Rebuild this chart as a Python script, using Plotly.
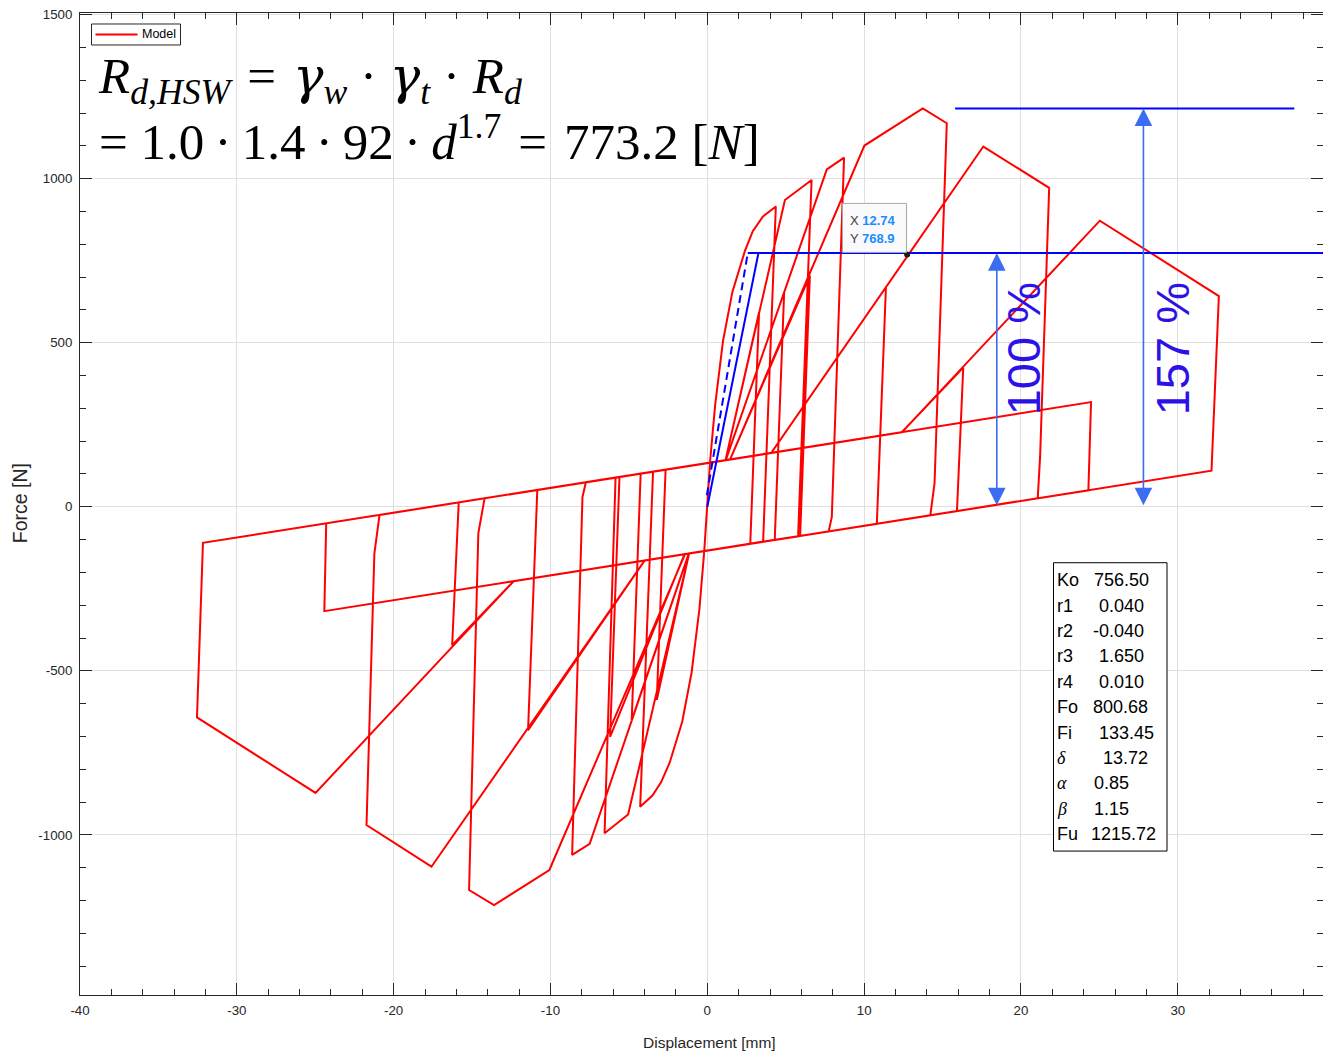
import plotly.graph_objects as go

# ---------------------------------------------------------------------------
# Hysteresis response of the connection model: displacement [mm], force [N]
# Each list is one half-cycle; consecutive half-cycles join along the
# pinching lines.
# ---------------------------------------------------------------------------
# first excursion along the backbone (positive), then unloading
bb_pos_disp = [-0.195, 0.0, 0.18, 0.5, 1.0, 1.6, 2.4, 2.9, 3.55, 4.37, 3.56]
bb_pos_force = [-135, 0, 140, 310, 505, 655, 780, 840, 885, 915, -106]
# first excursion along the backbone (negative), then unloading
bb_neg_disp = [-0.195, -0.5, -1.0, -1.6, -2.4, -2.95, -3.5, -4.28, -3.46]
bb_neg_force = [-135, -310, -505, -655, -780, -840, -880, -914, 107]

# trailing cycles after the 0.2 Delta primary
t1_pos_disp = [1.16, 3.3, 2.74]
t1_pos_force = [142, 593, -113]
t1_neg_disp = [-1.16, -3.22, -2.66]
t1_neg_force = [-142, -588, 113]

# 0.3 Delta primary
c2_pos_disp = [1.16, 4.95, 6.65, 5.79]
c2_pos_force = [142, 935, 996, -90]
c2_neg_disp = [-1.16, -5.05, -6.55, -5.85]
c2_neg_force = [-142, -938, -995, 89]
t2_pos_disp = [1.18, 4.9, 4.3]
t2_pos_force = [142, 654, -101]
t2_neg_disp = [-1.18, -4.82, -4.25]
t2_neg_force = [-142, -650, 101]

# 0.4 Delta primary
c3_pos_disp = [1.18, 7.62, 8.72, 7.94, 7.74]
c3_pos_force = [142, 1028, 1064, -31, -75]
c3_neg_disp = [-1.18, -7.5, -8.62, -7.96, -7.74]
c3_neg_force = [-142, -1027, -1061, 30, 75]
t3_pos_disp = [1.45, 6.54, 5.92]
t3_pos_force = [144, 705, -89]
t3_neg_disp = [-1.45, -6.2, -5.6]
t3_neg_force = [-144, -701, 91]

# 0.7 Delta primary
c4_pos_disp = [1.45, 10.02, 13.74, 15.27, 14.49, 14.22]
c4_pos_force = [144, 1101, 1214, 1169, 71, -26]
c4_neg_disp = [-1.42, -10.07, -13.6, -15.19, -14.6, -14.2]
c4_neg_force = [-144, -1107, -1214, -1168, -80, 26]
t4_pos_disp = [4.07, 11.39, 10.81]
t4_pos_force = [164, 669, -52]
t4_neg_disp = [-4.0, -11.43, -10.84]
t4_neg_force = [-164, -681, 51]

# 1.0 Delta primary
c5_pos_disp = [4.07, 17.6, 21.8, 21.22, 21.07]
c5_pos_force = [164, 1098, 972, 152, 26]
c5_neg_disp = [-4.0, -17.59, -21.73, -21.23, -20.9]
c5_neg_force = [-164, -1097, -970, -143, -25]
t5_pos_disp = [12.4, 16.32, 15.92]
t5_pos_force = [227, 424, -13]
t5_neg_disp = [-12.35, -16.27, -15.85]
t5_neg_force = [-227, -422, 13.5]

# 1.5 Delta primary
c6_pos_disp = [12.4, 25.03, 32.62, 32.15]
c6_pos_force = [227, 872, 642, 110]
c6_neg_disp = [-12.35, -24.98, -32.54, -32.16]
c6_neg_force = [-227, -872, -642, -110]
t6_pos_disp = [24.47, 24.3]
t6_pos_force = [319, 50]
t6_neg_disp = [-24.42, -24.3]
t6_neg_force = [-318, -50]

# design resistance and stiffness construction lines
rd_hsw = 773.2
fu_ratio = 1.57
secant_disp = [0.0, 3.26]
secant_force = [0.0, rd_hsw]
initial_disp = [-0.03, 2.58]
initial_force = [35.0, rd_hsw]
level_disp = [2.58, 39.26]
peak_level_disp = [15.8, 37.43]
arrow_100_disp = 18.46
arrow_157_disp = 27.81

# data tip
tip_disp = 12.74
tip_force = 768.9

# model parameters shown in the box
param_names = ["Ko", "r1", "r2", "r3", "r4", "Fo", "Fi", "δ", "α", "β", "Fu"]
param_values = ["756.50", "0.040", "-0.040", "1.650", "0.010", "800.68",
                "133.45", "13.72", "0.85", "1.15", "1215.72"]

# axis ticks
x_tick_vals = [-40, -30, -20, -10, 0, 10, 20, 30]
x_tick_text = ["-40", "-30", "-20", "-10", "0", "10", "20", "30"]
y_tick_vals = [-1000, -500, 0, 500, 1000, 1500]
y_tick_text = ["-1000", "-500", "0", "500", "1000", "1500"]

# ---------------------------------------------------------------------------
half_cycles = [
    (bb_pos_disp, bb_pos_force), (bb_neg_disp, bb_neg_force),
    (t1_pos_disp, t1_pos_force), (t1_neg_disp, t1_neg_force),
    (c2_pos_disp, c2_pos_force), (c2_neg_disp, c2_neg_force),
    (t2_pos_disp, t2_pos_force), (t2_neg_disp, t2_neg_force),
    (c3_pos_disp, c3_pos_force), (c3_neg_disp, c3_neg_force),
    (t3_pos_disp, t3_pos_force), (t3_neg_disp, t3_neg_force),
    (c4_pos_disp, c4_pos_force), (c4_neg_disp, c4_neg_force),
    (t4_pos_disp, t4_pos_force), (t4_neg_disp, t4_neg_force),
    (c5_pos_disp, c5_pos_force), (c5_neg_disp, c5_neg_force),
    (t5_pos_disp, t5_pos_force), (t5_neg_disp, t5_neg_force),
    (c6_pos_disp, c6_pos_force), (c6_neg_disp, c6_neg_force),
    (t6_pos_disp, t6_pos_force), (t6_neg_disp, t6_neg_force),
]
model_disp, model_force = [], []
for d, f in half_cycles:
    model_disp += d
    model_force += f

FIG_W, FIG_H = 1323, 1052
PLOT_L, PLOT_R, PLOT_T, PLOT_B = 80, 1323, 12.5, 995


def paper_x(px):
    return (px - PLOT_L) / (PLOT_R - PLOT_L)


def paper_y(py):
    return (PLOT_B - py) / (PLOT_B - PLOT_T)


SANS = "Liberation Sans, Arial, Helvetica, sans-serif"
SERIF = "Liberation Serif, Times New Roman, serif"
AXIS_COLOR = "#262626"
BLUE = "#0000ff"
ARROW_BLUE = "#3b6cf2"
TEXT_BLUE = "#2c12e6"

fig = go.Figure()

fig.add_trace(go.Scatter(
    x=model_disp, y=model_force, mode="lines", name="Model",
    line=dict(color="#ff0000", width=2), showlegend=False,
))

fig.add_trace(go.Scatter(
    x=initial_disp, y=initial_force, mode="lines",
    line=dict(color=BLUE, width=2, dash="8px,5px"), showlegend=False,
))
fig.add_trace(go.Scatter(
    x=secant_disp, y=secant_force, mode="lines",
    line=dict(color=BLUE, width=2), showlegend=False,
))
fig.add_trace(go.Scatter(
    x=level_disp, y=[rd_hsw, rd_hsw], mode="lines",
    line=dict(color=BLUE, width=2), showlegend=False,
))
fig.add_trace(go.Scatter(
    x=peak_level_disp, y=[rd_hsw * fu_ratio] * 2, mode="lines",
    line=dict(color=BLUE, width=2), showlegend=False,
))
fig.add_trace(go.Scatter(
    x=[tip_disp], y=[tip_force], mode="markers",
    marker=dict(color="#1a1a1a", size=6), showlegend=False,
))

annotations = []
shapes = []

# dimension arrows
for xa, top in [(arrow_100_disp, rd_hsw), (arrow_157_disp, rd_hsw * fu_ratio)]:
    annotations.append(dict(
        x=xa, y=top, ax=xa, ay=0, xref="x", yref="y", axref="x", ayref="y",
        text="", showarrow=True, arrowside="end+start",
        arrowhead=2, startarrowhead=2, arrowsize=2.2, startarrowsize=2.2,
        arrowwidth=1.6, arrowcolor=ARROW_BLUE,
    ))

for label, xc in [("100 %", 1023), ("157 %", 1172)]:
    annotations.append(dict(
        x=paper_x(xc), y=paper_y(349), xref="paper", yref="paper",
        text=label, showarrow=False, textangle=-90,
        font=dict(family=SANS, size=47, color=TEXT_BLUE),
        xanchor="center", yanchor="middle",
    ))

# equation (two lines); narrow spaces around the operators
THIN, MID = "\u2009", "\u2004"
GAMMA = "<span style='font-family:DejaVu Serif'>γ</span>"
eq1 = (f"<i>R</i><sub><i>d,HSW</i></sub>{MID}={MID}<i>{GAMMA}</i><sub><i>w</i></sub> · "
       f"<i>{GAMMA}</i><sub><i>t</i></sub> · <i>R</i><sub><i>d</i></sub>")
eq2 = (f"= 1.0{THIN}·{THIN}1.4{THIN}·{THIN}92{THIN}·{THIN}<i>d</i><sup>1.7</sup>"
       f"{MID}={MID}773.2 [<i>N</i>]")
annotations.append(dict(
    x=paper_x(96), y=paper_y(172), xref="paper", yref="paper",
    text=eq1 + "<br>" + eq2, align="left",
    showarrow=False, xanchor="left", yanchor="bottom",
    font=dict(family=SERIF, size=51, color="#000000"),
))

# parameter box
box_l, box_r, box_t, box_b = 1053.5, 1167, 562.5, 851
shapes.append(dict(
    type="rect", xref="paper", yref="paper",
    x0=paper_x(box_l), x1=paper_x(box_r), y0=paper_y(box_b), y1=paper_y(box_t),
    line=dict(color="#000000", width=1), fillcolor="#ffffff", layer="above",
))
value_x = [1092, 1097, 1091, 1097, 1097, 1091, 1097, 1101, 1092, 1092, 1089]
for i, (name, val) in enumerate(zip(param_names, param_values)):
    yc = 580 + 25.4 * i
    if name in ("δ", "α", "β"):
        name_txt = f"<i>{name}</i>"
        name_font = dict(family=SERIF, size=18, color="#000000")
    else:
        name_txt = name
        name_font = dict(family=SANS, size=18, color="#000000")
    annotations.append(dict(
        x=paper_x(1055), y=paper_y(yc), xref="paper", yref="paper",
        text=name_txt, showarrow=False, xanchor="left", yanchor="middle",
        font=name_font,
    ))
    annotations.append(dict(
        x=paper_x(value_x[i]), y=paper_y(yc), xref="paper", yref="paper",
        text=val, showarrow=False, xanchor="left", yanchor="middle",
        font=dict(family=SANS, size=18, color="#000000"),
    ))

# data tip box
shapes.append(dict(
    type="rect", xref="paper", yref="paper",
    x0=paper_x(842.5), x1=paper_x(906.5), y0=paper_y(252), y1=paper_y(203),
    line=dict(color="#a8a8a8", width=1), fillcolor="rgba(250,250,253,0.97)",
    layer="above",
))
for lab, val, yc in [("X", f"{tip_disp:.2f}", 220.5), ("Y", f"{tip_force:.1f}", 238.5)]:
    annotations.append(dict(
        x=paper_x(848), y=paper_y(yc), xref="paper", yref="paper",
        text=f"<span style='color:#404040'>{lab}</span> "
             f"<b><span style='color:#1a8cff'>{val}</span></b>",
        showarrow=False, xanchor="left", yanchor="middle",
        font=dict(family=SANS, size=13),
    ))

# legend
shapes.append(dict(
    type="rect", xref="paper", yref="paper",
    x0=paper_x(91.5), x1=paper_x(180.5), y0=paper_y(44.5), y1=paper_y(23.5),
    line=dict(color="#262626", width=1), fillcolor="#ffffff", layer="above",
))
shapes.append(dict(
    type="line", xref="paper", yref="paper",
    x0=paper_x(95.5), x1=paper_x(137.5), y0=paper_y(34), y1=paper_y(34),
    line=dict(color="#ff0000", width=2), layer="above",
))
annotations.append(dict(
    x=paper_x(139.5), y=paper_y(34), xref="paper", yref="paper", text="Model",
    showarrow=False, xanchor="left", yanchor="middle",
    font=dict(family=SANS, size=12.5, color="#000000"),
))

# axis titles
annotations.append(dict(
    x=paper_x(709.5), y=paper_y(1043), xref="paper", yref="paper",
    text="Displacement [mm]", showarrow=False, xanchor="center", yanchor="middle",
    font=dict(family=SANS, size=15.5, color=AXIS_COLOR),
))
annotations.append(dict(
    x=paper_x(20), y=paper_y(503), xref="paper", yref="paper",
    text="Force [N]", showarrow=False, textangle=-90,
    xanchor="center", yanchor="middle",
    font=dict(family=SANS, size=19.5, color=AXIS_COLOR),
))

axis_common = dict(
    ticks="inside", ticklen=12, tickwidth=1, tickcolor=AXIS_COLOR,
    showline=True, linecolor=AXIS_COLOR, linewidth=1, mirror="allticks",
    showgrid=True, gridcolor="#dfdfdf", gridwidth=1, zeroline=False,
    tickfont=dict(family=SANS, size=13.3, color=AXIS_COLOR),
    tickmode="array",
)

fig.update_layout(
    width=FIG_W, height=FIG_H,
    margin=dict(l=PLOT_L, r=FIG_W - PLOT_R, t=PLOT_T, b=FIG_H - PLOT_B),
    paper_bgcolor="#ffffff", plot_bgcolor="#ffffff",
    showlegend=False,
    xaxis=dict(
        range=[-40, 39.26], tickvals=x_tick_vals, ticktext=x_tick_text,
        ticklabelstandoff=3,
        minor=dict(ticks="inside", ticklen=6, tickwidth=1, tickcolor=AXIS_COLOR,
                   tickmode="linear", tick0=0, dtick=2, showgrid=False),
        **axis_common,
    ),
    yaxis=dict(
        range=[-1488, 1505], tickvals=y_tick_vals, ticktext=y_tick_text,
        ticklabelstandoff=4,
        minor=dict(ticks="inside", ticklen=6, tickwidth=1, tickcolor=AXIS_COLOR,
                   tickmode="linear", tick0=0, dtick=100, showgrid=False),
        **axis_common,
    ),
    annotations=annotations,
    shapes=shapes,
)

fig.write_html("out.html")
